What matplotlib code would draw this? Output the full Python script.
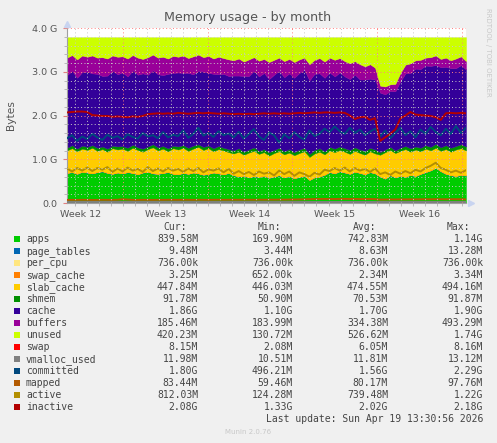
import numpy as np
import matplotlib.pyplot as plt
from matplotlib.patches import Rectangle

# Munin memory plugin, month view (values in GiB)
N = 80
days = np.linspace(0, 33.0, N)

apps = [0.68, 0.70, 0.66, 0.71, 0.69, 0.67, 0.70, 0.72, 0.68, 0.66, 0.69,
        0.67, 0.70, 0.68, 0.65, 0.69, 0.71, 0.67, 0.66, 0.68, 0.70, 0.66,
        0.65, 0.68, 0.66, 0.69, 0.67, 0.64, 0.66, 0.69, 0.67, 0.65, 0.68,
        0.63, 0.60, 0.62, 0.58, 0.61, 0.59, 0.62, 0.57, 0.60, 0.63, 0.58,
        0.61, 0.56, 0.59, 0.62, 0.52, 0.58, 0.60, 0.64, 0.70, 0.67, 0.72,
        0.69, 0.66, 0.71, 0.68, 0.65, 0.70, 0.67,
        0.60, 0.55, 0.63, 0.58, 0.62, 0.59, 0.64, 0.61, 0.66, 0.70, 0.74,
        0.80, 0.72, 0.66, 0.63, 0.61, 0.64, 0.62]
page_tables = [0.009] * N
per_cpu = [0.0007] * N
swap_cache = [0.003] * N
slab_cache = [0.51, 0.54, 0.51, 0.52, 0.51, 0.58, 0.48, 0.50, 0.48, 0.58, 0.52,
              0.56, 0.48, 0.57, 0.55, 0.47, 0.51, 0.59, 0.53, 0.55, 0.47, 0.58,
              0.56, 0.57, 0.52, 0.54, 0.60, 0.56, 0.58, 0.48, 0.55, 0.54, 0.47,
              0.49, 0.56, 0.47, 0.56, 0.57, 0.52, 0.53, 0.50, 0.53, 0.54, 0.52,
              0.53, 0.52, 0.54, 0.55, 0.52, 0.54, 0.56, 0.46, 0.49, 0.48, 0.48,
              0.47, 0.45, 0.47, 0.45, 0.44, 0.47, 0.45,
              0.49, 0.60, 0.57, 0.55, 0.56, 0.63, 0.52, 0.60, 0.51, 0.53, 0.45,
              0.45, 0.46, 0.56, 0.53, 0.60, 0.60, 0.57]
shmem = [0.06, 0.07, 0.06, 0.07, 0.07, 0.06, 0.07, 0.06, 0.07, 0.06, 0.07,
         0.06, 0.07, 0.07, 0.06, 0.07, 0.06, 0.07, 0.07, 0.06, 0.07, 0.06,
         0.07, 0.06, 0.07, 0.07, 0.06, 0.07, 0.06, 0.07, 0.07, 0.06, 0.07,
         0.07, 0.08, 0.07, 0.07, 0.08, 0.07, 0.07, 0.08, 0.07, 0.08, 0.07,
         0.08, 0.07, 0.08, 0.08, 0.07, 0.08, 0.08, 0.07, 0.08, 0.08, 0.08,
         0.08, 0.09, 0.08, 0.08, 0.09, 0.08, 0.09,
         0.06, 0.06, 0.07, 0.06, 0.07, 0.07, 0.08, 0.07, 0.08, 0.08, 0.08,
         0.09, 0.08, 0.09, 0.09, 0.08, 0.09, 0.09]
cache = [1.66, 1.70, 1.62, 1.68, 1.72, 1.64, 1.69, 1.61, 1.67, 1.71, 1.65,
         1.68, 1.63, 1.70, 1.66, 1.72, 1.64, 1.69, 1.67, 1.62, 1.70, 1.66,
         1.69, 1.65, 1.71, 1.63, 1.68, 1.72, 1.66, 1.70, 1.64, 1.69, 1.67,
         1.71, 1.66, 1.73, 1.68, 1.75, 1.70, 1.74, 1.67, 1.72, 1.76, 1.69,
         1.73, 1.70, 1.75, 1.78, 1.68, 1.74, 1.71, 1.68, 1.70, 1.65, 1.69,
         1.64, 1.62, 1.66, 1.60, 1.63, 1.58, 1.60,
         1.36, 1.26, 1.28, 1.35, 1.52, 1.66, 1.72, 1.78, 1.80, 1.82, 1.85,
         1.80, 1.83, 1.79, 1.82, 1.78, 1.81, 1.76]
buffers = [0.40, 0.36, 0.42, 0.38, 0.34, 0.41, 0.37, 0.43, 0.39, 0.35, 0.40,
           0.37, 0.41, 0.35, 0.39, 0.33, 0.40, 0.36, 0.38, 0.42, 0.35, 0.39,
           0.36, 0.40, 0.34, 0.41, 0.37, 0.33, 0.39, 0.35, 0.40, 0.36, 0.38,
           0.35, 0.39, 0.33, 0.38, 0.31, 0.36, 0.32, 0.39, 0.34, 0.30, 0.37,
           0.33, 0.36, 0.31, 0.28, 0.37, 0.32, 0.35, 0.37, 0.34, 0.38, 0.33,
           0.35, 0.36, 0.31, 0.35, 0.30, 0.33, 0.27,
           0.16, 0.18, 0.15, 0.17, 0.19, 0.20, 0.22, 0.19, 0.21, 0.18, 0.20,
           0.22, 0.19, 0.21, 0.18, 0.22, 0.20, 0.19]
mem_total = 3.79  # physical RAM, unused is what is left of it
swap = [0.006] * N

vmalloc_used = [0.0115] * N
committed = [1.48, 1.55, 1.42, 1.52, 1.46, 1.58, 1.50, 1.44, 1.56, 1.49, 1.53,
             1.45, 1.57, 1.51, 1.47, 1.60, 1.52, 1.55, 1.48, 1.62, 1.50, 1.56,
             1.53, 1.66, 1.49, 1.58, 1.72, 1.54, 1.60, 1.51, 1.64, 1.55, 1.59,
             1.50, 1.63, 1.47, 1.58, 1.69, 1.52, 1.44, 1.61, 1.55, 1.38, 1.57,
             1.48, 1.62, 1.51, 1.45, 1.66, 1.53, 1.58, 1.70, 1.62, 1.75, 1.64,
             1.58, 1.72, 1.60, 1.68, 1.55, 1.63, 1.70,
             1.52, 1.66, 1.48, 1.60, 1.72, 1.55, 1.64, 1.50, 1.68, 1.58, 1.74,
             1.62, 1.55, 1.70, 1.58, 1.76, 1.60, 1.72]
mapped = [0.070, 0.072, 0.071, 0.073, 0.072, 0.070, 0.071, 0.073, 0.072, 0.071, 0.074,
          0.085, 0.078, 0.072, 0.071, 0.073, 0.072, 0.071, 0.073, 0.072, 0.074, 0.073,
          0.072, 0.074, 0.073, 0.072, 0.074, 0.073, 0.072, 0.074, 0.075, 0.073, 0.074,
          0.075, 0.074, 0.076, 0.075, 0.074, 0.076, 0.075, 0.077, 0.076, 0.078, 0.077,
          0.079, 0.080, 0.082, 0.085, 0.088, 0.090, 0.092, 0.093, 0.092, 0.091, 0.093,
          0.094, 0.092, 0.093, 0.091, 0.090, 0.092, 0.089,
          0.078, 0.080, 0.082, 0.081, 0.083, 0.082, 0.084, 0.083, 0.085, 0.086, 0.085,
          0.087, 0.086, 0.085, 0.087, 0.086, 0.085, 0.083]
active = [0.79, 0.72, 0.80, 0.74, 0.81, 0.73, 0.80, 0.76, 0.82, 0.71, 0.79,
          0.72, 0.81, 0.74, 0.78, 0.71, 0.82, 0.73, 0.79, 0.72, 0.80, 0.74,
          0.78, 0.71, 0.79, 0.73, 0.80, 0.70, 0.77, 0.74, 0.79, 0.70, 0.78,
          0.67, 0.73, 0.66, 0.71, 0.64, 0.72, 0.67, 0.70, 0.63, 0.74, 0.66,
          0.72, 0.62, 0.70, 0.66, 0.60, 0.69, 0.65, 0.76, 0.73, 0.80, 0.74,
          0.81, 0.72, 0.80, 0.74, 0.78, 0.71, 0.79,
          0.66, 0.70, 0.64, 0.72, 0.67, 0.73, 0.68, 0.76, 0.72, 0.80, 0.85,
          0.92, 0.80, 0.76, 0.70, 0.74, 0.69, 0.75]
inactive = [2.07, 2.08, 2.09, 2.09, 2.08, 2.01, 2.00, 1.99, 1.99, 1.97, 1.98,
            1.97, 1.96, 1.98, 1.97, 1.99, 2.03, 2.04, 2.05, 2.04, 2.05, 2.04,
            2.06, 2.05, 2.04, 2.05, 2.06, 2.05, 2.06, 2.05, 2.04, 2.05, 2.04,
            2.03, 2.04, 2.03, 2.04, 2.03, 2.04, 2.05, 2.04, 2.05, 2.04, 2.05,
            2.04, 2.05, 2.06, 2.05, 2.06, 2.07, 2.06, 2.07, 2.07, 2.06, 2.07,
            2.06, 2.00, 1.92, 1.96, 1.97, 1.90, 1.94,
            1.42, 1.50, 1.58, 1.68, 1.93, 2.00, 2.08, 2.02, 2.01, 2.00, 1.99,
            1.96, 1.90, 2.05, 2.06, 2.05, 2.06, 2.05]

week_starts = [4.63, 11.63, 18.63, 25.63, 32.63]
week_labels = ["Week 12", "Week 13", "Week 14", "Week 15", "Week 16"]

names = ["apps", "page_tables", "per_cpu", "swap_cache", "slab_cache", "shmem",
         "cache", "buffers", "unused", "swap", "vmalloc_used", "committed",
         "mapped", "active", "inactive"]
colors = ["#00CC00", "#0066B3", "#FFE680", "#FF8000", "#FFCC00", "#008F00",
          "#330099", "#990099", "#CCFF00", "#FF0000", "#808080", "#00487D",
          "#B35A00", "#B38F00", "#B30000"]
cur_vals = ["839.58M", "9.48M", "736.00k", "3.25M", "447.84M", "91.78M", "1.86G",
            "185.46M", "420.23M", "8.15M", "11.98M", "1.80G", "83.44M", "812.03M", "2.08G"]
min_vals = ["169.90M", "3.44M", "736.00k", "652.00k", "446.03M", "50.90M", "1.10G",
            "183.99M", "130.72M", "2.08M", "10.51M", "496.21M", "59.46M", "124.28M", "1.33G"]
avg_vals = ["742.83M", "8.63M", "736.00k", "2.34M", "474.55M", "70.53M", "1.70G",
            "334.38M", "526.62M", "6.05M", "11.81M", "1.56G", "80.17M", "739.48M", "2.02G"]
max_vals = ["1.14G", "13.28M", "736.00k", "3.34M", "494.16M", "91.87M", "1.90G",
            "493.29M", "1.74G", "8.16M", "13.12M", "2.29G", "97.76M", "1.22G", "2.18G"]

W, H = 497, 443
fig = plt.figure(figsize=(W / 100, H / 100), dpi=100, facecolor="#F0F0F0")
ax = fig.add_axes([67 / W, 1 - 203 / H, 399 / W, 175 / H])
ax.set_facecolor("white")

stack = [apps, page_tables, per_cpu, swap_cache, slab_cache, shmem, cache, buffers]
used = np.sum(np.array(stack), axis=0)
unused = mem_total - used
layers = stack + [unused, swap]
polys = ax.stackplot(days, *layers, colors=colors[:10], zorder=1)
for p, c in zip(polys, colors[:10]):
    p.set_edgecolor(c)
    p.set_linewidth(0.3)
polys[-1].set_linewidth(0)

lines = [vmalloc_used, committed, mapped, active, inactive]
for vals, c in zip(lines, colors[10:]):
    ax.plot(days, vals, color=c, lw=1.4, zorder=3)

ax.set_xlim(0, 33.0)
ax.set_ylim(0, 4.0)

# dotted grid on top of the areas, rrdtool style
d = week_starts[0] - 5
while d < 33.0:
    if d > 0:
        major = any(abs(d - w) < 0.01 for w in week_starts)
        ax.axvline(d, color="#FF8080" if major else "#C8C8C8", lw=0.7,
                   ls=(0, (1, 2.5)), zorder=5)
    d += 1
for k in range(1, 21):
    v = k * 0.2
    major = k % 5 == 0
    ax.axhline(v, color="#FF8080" if major else "#C8C8C8", lw=0.7,
               ls=(0, (1, 2.5)), zorder=5)

ax.set_xticks([w - 3.5 for w in week_starts], week_labels)
ax.set_xticks([w - k for w in week_starts for k in range(7) if 0 < w - k < 33], minor=True)
ax.set_yticks([0, 1, 2, 3, 4], ["0.0", "1.0 G", "2.0 G", "3.0 G", "4.0 G"])
ax.set_yticks([k * 0.2 for k in range(21)], minor=True)
ax.tick_params(axis="x", which="major", length=0, pad=5, labelsize=6.8, labelcolor="#555555")
ax.tick_params(axis="y", which="major", length=3, color="#E08080", pad=4,
               labelsize=6.8, labelcolor="#555555")
ax.tick_params(which="minor", length=2, color="#B0B0B0")

for s in ["top", "right"]:
    ax.spines[s].set_visible(False)
for s in ["left", "bottom"]:
    ax.spines[s].set_color("#A0A0A0")
    ax.spines[s].set_linewidth(0.8)
ax.plot([0], [4.1], marker="^", color="#C8D4F0", ms=4, clip_on=False, zorder=6)
ax.plot([33.45], [0], marker=">", color="#C8D4F0", ms=4, clip_on=False, zorder=6)

fig.text(248 / W, 1 - 18 / H, "Memory usage - by month", ha="center", va="center",
         fontsize=9.1, color="#555555")
fig.text(11 / W, 1 - 115 / H, "Bytes", rotation=90, ha="center", va="center",
         fontsize=7.7, color="#555555")
fig.text(488 / W, 1 - 52 / H, "RRDTOOL / TOBI OETIKER", rotation=270, ha="center",
         va="center", fontsize=5, color="#C8C8C8")

# legend table
mono = "DejaVu Sans Mono"
tc = "#444444"
hy = 1 - 227.3 / H
for txt, xr in zip(["Cur:", "Min:", "Avg:", "Max:"], [187, 281, 376, 470]):
    fig.text(xr / W, hy, txt, ha="right", va="center", family=mono, fontsize=7, color=tc)
for k, name in enumerate(names):
    yp = 239.3 + 12 * k
    y = 1 - yp / H
    fig.patches.append(Rectangle((14 / W, 1 - (yp + 3) / H), 6 / W, 6 / H,
                                 facecolor=colors[k], edgecolor="none",
                                 transform=fig.transFigure))
    fig.text(26 / W, y, name, ha="left", va="center", family=mono, fontsize=7, color=tc)
    for vals, xr in zip([cur_vals, min_vals, avg_vals, max_vals], [198, 293, 388, 483]):
        fig.text(xr / W, y, vals[k], ha="right", va="center", family=mono,
                 fontsize=7, color=tc)
fig.text(483 / W, 1 - 419 / H, "Last update: Sun Apr 19 13:30:56 2026", ha="right",
         va="center", family=mono, fontsize=7, color=tc)
fig.text(248 / W, 1 - 432 / H, "Munin 2.0.76", ha="center", va="center",
         fontsize=5, color="#C8C8C8")

fig.savefig("out.png", dpi=100, facecolor=fig.get_facecolor())
